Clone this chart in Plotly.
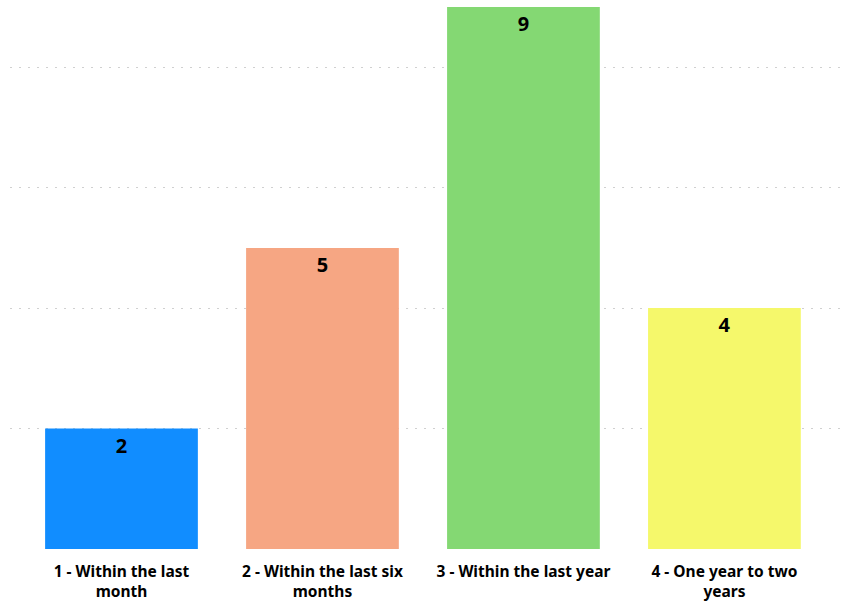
import plotly.graph_objects as go

categories = ["1 - Within the last<br>month", "2 - Within the last six<br>months",
              "3 - Within the last year", "4 - One year to two<br>years"]
values = [2, 5, 9, 4]
colors = ["#118DFF", "#F6A683", "#84D873", "#F5F86B"]

fig = go.Figure(go.Bar(
    x=list(range(len(categories))), y=values,
    marker=dict(color=colors, line=dict(width=0)),
    width=0.76,
    text=[str(v) for v in values], textposition="inside", insidetextanchor="end",
    textfont=dict(family="Noto Sans", size=20, color="black", weight="bold"),
    textangle=0,
))
fig.update_layout(
    width=843, height=604, margin=dict(l=10, r=2, t=0, b=55),
    paper_bgcolor="white", plot_bgcolor="white", showlegend=False,
    font=dict(family="Noto Sans", color="black"),
)
fig.update_xaxes(tickmode="array", tickvals=list(range(len(categories))), ticktext=categories,
                 range=[-0.5547, 3.58], showgrid=False, zeroline=False, showline=False,
                 tickfont=dict(size=15.5, weight="bold", family="Noto Sans"), ticks="", ticklen=0,
                 ticklabelstandoff=11)
fig.update_yaxes(range=[0, 9.116], dtick=2, showticklabels=False, zeroline=False,
                 showgrid=True, gridcolor="#d0d0d0", griddash="2px,7px", gridwidth=1)
fig.write_html("out.html")
